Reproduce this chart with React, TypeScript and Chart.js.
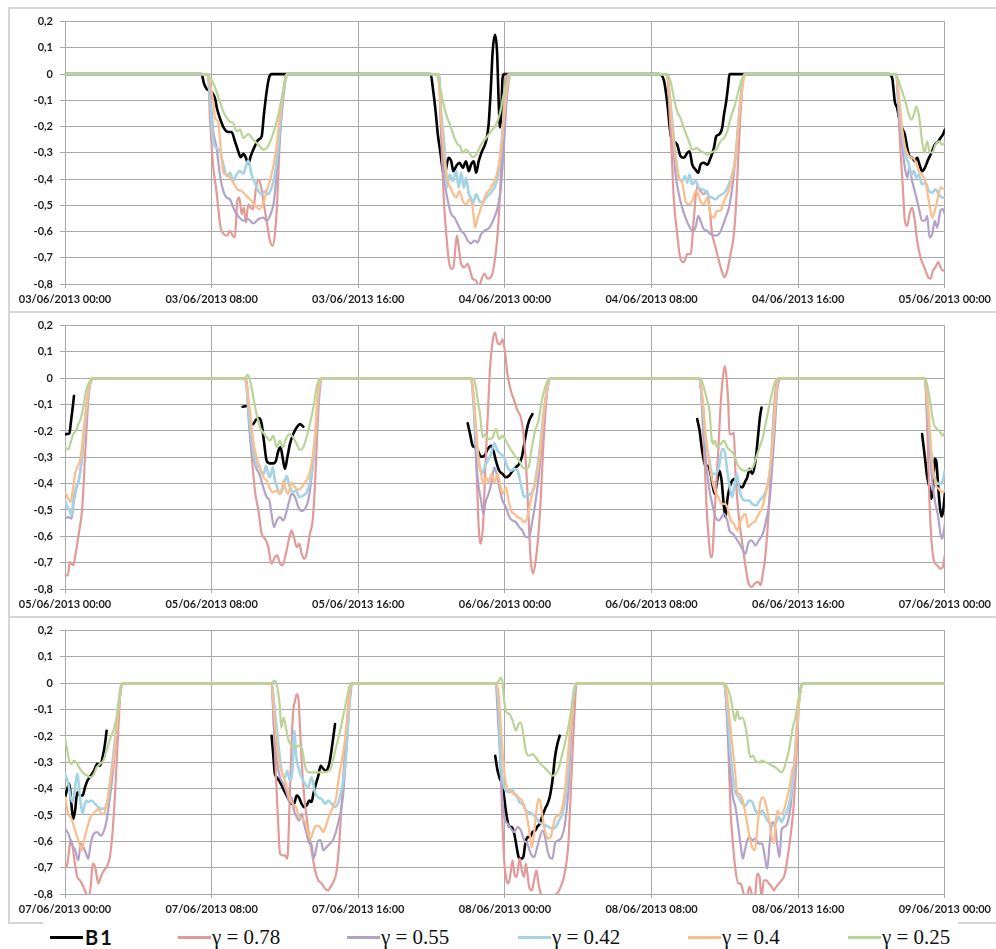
import React, { useEffect, useRef } from 'react';
import { Chart, registerables } from 'chart.js';

Chart.register(...registerables);

type Pt = [number, number | null];

// ---------- series meta ----------
const SERIES_NAMES = ['B1', 'γ = 0.78', 'γ = 0.55', 'γ = 0.42', 'γ = 0.4', 'γ = 0.25'];
const SERIES_COLORS = ['#000000', '#e29a99', '#b3a2c7', '#a3d3e4', '#fbbd8c', '#bad497'];
const SERIES_WIDTHS = [2.6, 2.2, 2.2, 2.6, 2.2, 2.2];
const SERIES_ORDER = [6, 5, 4, 3, 2, 1];

// ---------- axes ----------
const Y_MIN = -0.8;
const Y_MAX = 0.2;
const Y_STEP = 0.1;
const X_MAX = 48;
const X_STEP = 8;

const P1_TICKS = ['03/06/2013 00:00', '03/06/2013 08:00', '03/06/2013 16:00', '04/06/2013 00:00', '04/06/2013 08:00', '04/06/2013 16:00', '05/06/2013 00:00'];
const P2_TICKS = ['05/06/2013 00:00', '05/06/2013 08:00', '05/06/2013 16:00', '06/06/2013 00:00', '06/06/2013 08:00', '06/06/2013 16:00', '07/06/2013 00:00'];
const P3_TICKS = ['07/06/2013 00:00', '07/06/2013 08:00', '07/06/2013 16:00', '08/06/2013 00:00', '08/06/2013 08:00', '08/06/2013 16:00', '09/06/2013 00:00'];

// ---------- panel 1 (hours since 03/06 00:00) ----------
const P1_B1: Pt[] = [[0,0],[7.45,0],[7.58,-0.035],[7.73,-0.057],[7.91,-0.064],[8.05,-0.073],[8.18,-0.092],[8.31,-0.136],[8.45,-0.168],[8.67,-0.206],[8.91,-0.221],[9.09,-0.221],[9.27,-0.256],[9.45,-0.294],[9.58,-0.317],[9.73,-0.304],[9.87,-0.319],[10.0,-0.342],[10.13,-0.313],[10.31,-0.282],[10.55,-0.25],[10.73,-0.237],[10.85,-0.155],[11.0,-0.067],[11.15,-0.01],[11.27,0],
[19.95,0],[20.07,-0.054],[20.22,-0.143],[20.34,-0.231],[20.47,-0.294],[20.62,-0.37],[20.71,-0.389],[20.8,-0.357],[20.92,-0.319],[21.07,-0.332],[21.19,-0.37],[21.34,-0.351],[21.52,-0.338],[21.7,-0.357],[21.88,-0.332],[22.03,-0.37],[22.15,-0.345],[22.3,-0.332],[22.43,-0.376],[22.57,-0.332],[22.75,-0.294],[22.97,-0.256],[23.11,-0.193],[23.24,-0.042],[23.33,0.085],[23.46,0.15],[23.57,0.085],[23.66,-0.105],[23.73,-0.203],[23.8,-0.155],[23.87,-0.016],[23.96,0],
[32.4,0],[32.67,-0.023],[32.85,-0.105],[33.04,-0.231],[33.22,-0.256],[33.4,-0.269],[33.58,-0.313],[33.76,-0.319],[33.95,-0.3],[34.07,-0.294],[34.22,-0.345],[34.4,-0.364],[34.55,-0.376],[34.67,-0.345],[34.85,-0.338],[35.04,-0.345],[35.22,-0.319],[35.4,-0.282],[35.53,-0.237],[35.67,-0.231],[35.85,-0.206],[35.95,-0.155],[36.07,-0.105],[36.18,-0.042],[36.25,0],
[44.95,0],[45.13,-0.016],[45.27,-0.105],[45.4,-0.13],[45.49,-0.162],[45.67,-0.206],[45.82,-0.231],[45.95,-0.282],[46.07,-0.313],[46.22,-0.319],[46.36,-0.332],[46.49,-0.319],[46.62,-0.345],[46.76,-0.37],[46.91,-0.357],[47.09,-0.326],[47.27,-0.3],[47.45,-0.269],[47.64,-0.256],[47.76,-0.244],[47.89,-0.231],[48,-0.212]];

const P1_G078: Pt[] = [[0,0],[7.8,0],[7.91,-0.168],[8.09,-0.357],[8.24,-0.433],[8.36,-0.509],[8.49,-0.585],[8.67,-0.61],[8.85,-0.616],[9.0,-0.597],[9.15,-0.616],[9.27,-0.622],[9.4,-0.484],[9.51,-0.471],[9.64,-0.534],[9.76,-0.509],[9.87,-0.566],[10.0,-0.496],[10.13,-0.509],[10.27,-0.515],[10.42,-0.433],[10.55,-0.402],[10.69,-0.427],[10.82,-0.484],[11.0,-0.559],[11.18,-0.635],[11.33,-0.654],[11.45,-0.61],[11.58,-0.484],[11.69,-0.294],[11.82,-0.13],[11.95,-0.042],[12.05,-0.004],[12.13,0],
[20.4,0],[20.52,-0.231],[20.65,-0.458],[20.8,-0.61],[20.94,-0.711],[21.07,-0.742],[21.19,-0.736],[21.3,-0.66],[21.38,-0.616],[21.48,-0.66],[21.61,-0.723],[21.79,-0.736],[21.97,-0.723],[22.1,-0.749],[22.24,-0.78],[22.43,-0.787],[22.57,-0.812],[22.7,-0.787],[22.88,-0.761],[23.06,-0.78],[23.24,-0.774],[23.42,-0.723],[23.6,-0.61],[23.73,-0.458],[23.87,-0.231],[24.0,-0.054],[24.1,-0.01],[24.2,0],
[32.85,0],[32.95,-0.105],[33.09,-0.294],[33.22,-0.484],[33.4,-0.61],[33.58,-0.705],[33.76,-0.717],[33.95,-0.686],[34.13,-0.686],[34.31,-0.547],[34.49,-0.427],[34.67,-0.446],[34.85,-0.458],[35.04,-0.446],[35.16,-0.509],[35.31,-0.61],[35.49,-0.66],[35.67,-0.711],[35.85,-0.755],[35.98,-0.774],[36.13,-0.749],[36.31,-0.686],[36.49,-0.61],[36.62,-0.484],[36.73,-0.319],[36.85,-0.155],[36.98,-0.029],[37.09,0],
[45.35,0],[45.46,-0.13],[45.58,-0.294],[45.71,-0.433],[45.82,-0.559],[45.95,-0.578],[46.07,-0.534],[46.22,-0.509],[46.36,-0.559],[46.49,-0.635],[46.67,-0.698],[46.8,-0.723],[46.95,-0.749],[47.09,-0.774],[47.22,-0.78],[47.35,-0.749],[47.49,-0.736],[47.64,-0.717],[47.76,-0.736],[47.89,-0.749],[48,-0.749]];

const P1_G055: Pt[] = [[0,0],[7.8,0],[7.91,-0.067],[8.09,-0.218],[8.27,-0.282],[8.45,-0.383],[8.64,-0.446],[8.82,-0.471],[9.0,-0.477],[9.18,-0.509],[9.36,-0.534],[9.55,-0.549],[9.73,-0.559],[10.0,-0.553],[10.27,-0.569],[10.55,-0.553],[10.82,-0.547],[11.0,-0.559],[11.22,-0.534],[11.4,-0.484],[11.58,-0.357],[11.73,-0.231],[11.91,-0.092],[12.05,-0.016],[12.13,0],
[20.4,0],[20.52,-0.206],[20.71,-0.408],[20.89,-0.484],[21.07,-0.534],[21.25,-0.547],[21.43,-0.572],[21.61,-0.597],[21.79,-0.61],[21.97,-0.635],[22.15,-0.645],[22.33,-0.635],[22.52,-0.641],[22.7,-0.61],[22.88,-0.597],[23.15,-0.585],[23.42,-0.547],[23.6,-0.509],[23.78,-0.433],[23.96,-0.256],[24.09,-0.105],[24.24,-0.016],[24.33,0],
[32.85,0],[32.95,-0.067],[33.13,-0.231],[33.31,-0.383],[33.49,-0.458],[33.67,-0.509],[33.85,-0.547],[34.04,-0.578],[34.22,-0.597],[34.4,-0.585],[34.55,-0.54],[34.67,-0.559],[34.85,-0.591],[35.04,-0.597],[35.22,-0.61],[35.49,-0.616],[35.67,-0.61],[35.85,-0.585],[36.04,-0.547],[36.22,-0.509],[36.4,-0.433],[36.58,-0.319],[36.76,-0.168],[36.91,-0.054],[37.04,-0.004],[37.09,0],
[45.35,0],[45.49,-0.13],[45.67,-0.269],[45.82,-0.357],[45.95,-0.395],[46.07,-0.357],[46.22,-0.408],[46.4,-0.458],[46.58,-0.509],[46.76,-0.559],[46.91,-0.559],[47.04,-0.54],[47.16,-0.622],[47.31,-0.61],[47.45,-0.559],[47.58,-0.585],[47.76,-0.521],[47.89,-0.515],[48,-0.534]];

const P1_G042: Pt[] = [[0,0],[7.8,0],[7.91,-0.092],[8.09,-0.256],[8.27,-0.282],[8.45,-0.294],[8.64,-0.345],[8.82,-0.389],[9.0,-0.376],[9.18,-0.405],[9.36,-0.383],[9.55,-0.37],[9.73,-0.38],[9.87,-0.351],[10.0,-0.33],[10.18,-0.383],[10.36,-0.414],[10.55,-0.446],[10.73,-0.458],[10.91,-0.446],[11.09,-0.458],[11.27,-0.433],[11.45,-0.383],[11.64,-0.269],[11.82,-0.117],[12.0,-0.029],[12.13,0],
[20.4,0],[20.52,-0.143],[20.71,-0.282],[20.83,-0.433],[20.98,-0.383],[21.16,-0.408],[21.34,-0.37],[21.48,-0.433],[21.61,-0.376],[21.76,-0.433],[21.88,-0.395],[22.03,-0.458],[22.15,-0.471],[22.24,-0.496],[22.43,-0.458],[22.61,-0.484],[22.79,-0.49],[22.97,-0.471],[23.15,-0.458],[23.42,-0.433],[23.6,-0.395],[23.78,-0.294],[23.96,-0.143],[24.14,-0.029],[24.33,0],
[32.85,0],[32.95,-0.054],[33.13,-0.181],[33.31,-0.307],[33.49,-0.395],[33.67,-0.408],[33.82,-0.389],[33.95,-0.414],[34.07,-0.383],[34.22,-0.42],[34.4,-0.408],[34.58,-0.433],[34.76,-0.439],[34.95,-0.446],[35.13,-0.465],[35.31,-0.471],[35.49,-0.477],[35.67,-0.465],[35.85,-0.458],[36.04,-0.446],[36.22,-0.42],[36.4,-0.383],[36.58,-0.319],[36.76,-0.168],[36.95,-0.042],[37.09,0],
[45.35,0],[45.49,-0.105],[45.67,-0.231],[45.85,-0.307],[46.04,-0.345],[46.18,-0.383],[46.31,-0.37],[46.44,-0.395],[46.58,-0.383],[46.76,-0.42],[46.95,-0.414],[47.13,-0.446],[47.31,-0.452],[47.49,-0.439],[47.67,-0.458],[47.85,-0.471],[48,-0.471]];

const P1_G040: Pt[] = [[0,0],[7.73,0],[7.91,-0.042],[8.09,-0.105],[8.18,-0.168],[8.36,-0.181],[8.49,-0.282],[8.64,-0.376],[8.82,-0.383],[9.0,-0.395],[9.18,-0.414],[9.4,-0.439],[9.64,-0.446],[9.91,-0.465],[10.18,-0.484],[10.45,-0.506],[10.6,-0.515],[10.82,-0.49],[11.0,-0.446],[11.27,-0.383],[11.51,-0.294],[11.69,-0.181],[11.87,-0.08],[12.05,-0.01],[12.13,0],
[20.34,0],[20.52,-0.168],[20.71,-0.332],[20.89,-0.408],[21.07,-0.439],[21.19,-0.458],[21.34,-0.471],[21.52,-0.446],[21.7,-0.484],[21.88,-0.496],[22.06,-0.477],[22.24,-0.509],[22.37,-0.585],[22.52,-0.547],[22.7,-0.509],[22.97,-0.458],[23.24,-0.433],[23.42,-0.408],[23.6,-0.37],[23.78,-0.282],[23.96,-0.155],[24.14,-0.042],[24.33,0],
[32.76,0],[32.95,-0.054],[33.13,-0.206],[33.31,-0.319],[33.49,-0.395],[33.67,-0.414],[33.85,-0.484],[34.04,-0.496],[34.22,-0.484],[34.4,-0.446],[34.55,-0.458],[34.67,-0.484],[34.85,-0.496],[35.04,-0.471],[35.22,-0.534],[35.4,-0.547],[35.58,-0.521],[35.76,-0.521],[35.95,-0.484],[36.13,-0.458],[36.31,-0.42],[36.49,-0.357],[36.67,-0.256],[36.85,-0.105],[37.04,-0.016],[37.09,0],
[45.3,0],[45.53,-0.105],[45.67,-0.206],[45.85,-0.282],[46.04,-0.313],[46.22,-0.319],[46.4,-0.332],[46.58,-0.37],[46.76,-0.383],[46.95,-0.414],[47.13,-0.484],[47.31,-0.547],[47.45,-0.521],[47.58,-0.484],[47.76,-0.433],[48,-0.439]];

const P1_G025: Pt[] = [[0,0],[7.64,0],[8.09,-0.035],[8.45,-0.105],[8.64,-0.143],[9.0,-0.181],[9.18,-0.187],[9.36,-0.218],[9.55,-0.212],[9.73,-0.244],[10.0,-0.229],[10.27,-0.25],[10.55,-0.269],[10.82,-0.288],[11.0,-0.282],[11.27,-0.244],[11.55,-0.181],[11.82,-0.092],[12.0,-0.029],[12.13,0],
[20.25,0],[20.43,-0.042],[20.62,-0.105],[20.8,-0.155],[21.07,-0.206],[21.25,-0.244],[21.43,-0.269],[21.56,-0.275],[21.7,-0.3],[21.88,-0.288],[22.06,-0.3],[22.24,-0.317],[22.43,-0.307],[22.7,-0.269],[22.97,-0.244],[23.24,-0.218],[23.51,-0.193],[23.73,-0.149],[23.96,-0.067],[24.14,-0.023],[24.33,0],
[32.8,0],[33.04,-0.029],[33.22,-0.092],[33.4,-0.143],[33.58,-0.168],[33.76,-0.206],[34.04,-0.256],[34.22,-0.288],[34.49,-0.282],[34.67,-0.294],[34.85,-0.3],[35.04,-0.307],[35.22,-0.3],[35.4,-0.294],[35.58,-0.282],[35.76,-0.256],[35.95,-0.244],[36.13,-0.218],[36.31,-0.168],[36.55,-0.117],[36.73,-0.067],[36.91,-0.023],[37.09,0],
[45.31,0],[45.49,-0.029],[45.67,-0.067],[45.85,-0.105],[46.04,-0.155],[46.18,-0.174],[46.31,-0.155],[46.44,-0.124],[46.58,-0.155],[46.76,-0.256],[46.89,-0.3],[47.04,-0.256],[47.16,-0.294],[47.31,-0.3],[47.49,-0.269],[47.67,-0.256],[47.85,-0.269],[48,-0.263]];

// ---------- panel 2 (hours since 05/06 00:00) ----------
const P2_B1: Pt[] = [[0,-0.212],[0.24,-0.209],[0.31,-0.174],[0.42,-0.111],[0.49,-0.067],[0.6,null],
[9.69,-0.108],[9.95,-0.105],[10.1,null],
[10.27,-0.174],[10.45,-0.155],[10.6,-0.151],[10.73,-0.174],[10.85,-0.237],[11.0,-0.313],[11.18,-0.323],[11.36,-0.323],[11.51,-0.313],[11.64,-0.275],[11.76,-0.262],[11.87,-0.3],[12.0,-0.344],[12.13,-0.3],[12.27,-0.25],[12.45,-0.212],[12.64,-0.187],[12.82,-0.174],[13.0,-0.184],[13.2,null],
[21.97,-0.171],[22.1,-0.212],[22.24,-0.256],[22.39,-0.262],[22.52,-0.275],[22.7,-0.298],[22.88,-0.294],[23.06,-0.269],[23.24,-0.256],[23.37,-0.275],[23.51,-0.313],[23.69,-0.351],[23.87,-0.363],[24.05,-0.376],[24.24,-0.369],[24.42,-0.351],[24.6,-0.338],[24.78,-0.325],[24.92,-0.3],[25.05,-0.25],[25.18,-0.199],[25.32,-0.161],[25.5,-0.136],[25.7,null],
[34.49,-0.155],[34.62,-0.199],[34.76,-0.275],[34.95,-0.332],[35.09,-0.332],[35.22,-0.363],[35.35,-0.414],[35.45,-0.439],[35.58,-0.388],[35.71,-0.351],[35.82,-0.388],[35.95,-0.489],[36.04,-0.527],[36.13,-0.464],[36.22,-0.426],[36.4,-0.388],[36.58,-0.382],[36.76,-0.407],[36.95,-0.414],[37.09,-0.395],[37.22,-0.376],[37.35,-0.344],[37.49,-0.363],[37.67,-0.313],[37.82,-0.212],[37.91,-0.149],[38.0,-0.111],[38.2,null],
[46.76,-0.212],[46.91,-0.3],[47.04,-0.376],[47.16,-0.414],[47.27,-0.458],[47.36,-0.414],[47.45,-0.306],[47.53,-0.313],[47.64,-0.414],[47.73,-0.489],[47.82,-0.525],[47.91,-0.502],[48,-0.439]];

const P2_G078: Pt[] = [[0,-0.748],[0.15,-0.748],[0.27,-0.697],[0.36,-0.704],[0.45,-0.71],[0.55,-0.678],[0.67,-0.628],[0.78,-0.578],[0.91,-0.515],[1.0,-0.426],[1.09,-0.3],[1.18,-0.187],[1.27,-0.086],[1.36,-0.023],[1.51,0],
[9.87,0],[9.95,-0.035],[10.09,-0.212],[10.24,-0.338],[10.36,-0.426],[10.55,-0.502],[10.73,-0.59],[10.91,-0.609],[11.09,-0.641],[11.27,-0.704],[11.45,-0.678],[11.58,-0.672],[11.73,-0.704],[11.87,-0.71],[12.05,-0.666],[12.24,-0.603],[12.36,-0.578],[12.49,-0.603],[12.64,-0.641],[12.78,-0.628],[12.91,-0.666],[13.04,-0.685],[13.18,-0.666],[13.36,-0.59],[13.51,-0.54],[13.64,-0.401],[13.76,-0.212],[13.87,-0.073],[14.0,0],
[22.15,0],[22.28,-0.061],[22.39,-0.212],[22.48,-0.401],[22.57,-0.565],[22.66,-0.628],[22.75,-0.603],[22.84,-0.515],[22.93,-0.338],[23.06,-0.149],[23.19,0.04],[23.33,0.141],[23.46,0.173],[23.6,0.135],[23.73,0.129],[23.87,0.148],[24.02,0.091],[24.14,0.015],[24.33,-0.048],[24.51,-0.086],[24.69,-0.124],[24.87,-0.149],[25.05,-0.237],[25.18,-0.363],[25.29,-0.527],[25.41,-0.691],[25.54,-0.741],[25.68,-0.691],[25.83,-0.59],[25.95,-0.464],[26.08,-0.275],[26.23,-0.111],[26.35,-0.023],[26.47,0],
[34.55,0],[34.69,-0.035],[34.8,-0.187],[34.91,-0.338],[35.0,-0.489],[35.13,-0.615],[35.22,-0.678],[35.31,-0.678],[35.4,-0.565],[35.53,-0.401],[35.64,-0.275],[35.76,-0.111],[35.89,0.003],[36.0,0.047],[36.09,0.003],[36.18,-0.086],[36.25,-0.212],[36.4,-0.212],[36.49,-0.206],[36.58,-0.363],[36.73,-0.502],[36.85,-0.578],[36.98,-0.641],[37.13,-0.716],[37.27,-0.773],[37.45,-0.792],[37.64,-0.779],[37.82,-0.773],[37.95,-0.786],[38.07,-0.741],[38.18,-0.691],[38.31,-0.59],[38.44,-0.439],[38.55,-0.275],[38.67,-0.124],[38.8,-0.023],[38.95,0],
[46.9,0],[47.05,-0.212],[47.16,-0.464],[47.27,-0.615],[47.4,-0.691],[47.58,-0.71],[47.76,-0.723],[47.89,-0.716],[48,-0.672]];

const P2_G055: Pt[] = [[0,-0.533],[0.18,-0.527],[0.36,-0.533],[0.49,-0.464],[0.64,-0.414],[0.78,-0.376],[0.91,-0.313],[1.04,-0.212],[1.18,-0.111],[1.33,-0.035],[1.47,-0.004],[1.5,0],
[9.85,0],[10.05,-0.187],[10.24,-0.288],[10.42,-0.338],[10.6,-0.363],[10.82,-0.414],[11.0,-0.451],[11.15,-0.464],[11.27,-0.515],[11.4,-0.565],[11.55,-0.54],[11.73,-0.527],[11.91,-0.54],[12.05,-0.515],[12.24,-0.464],[12.36,-0.439],[12.55,-0.451],[12.73,-0.489],[12.91,-0.504],[13.09,-0.496],[13.27,-0.464],[13.45,-0.376],[13.64,-0.237],[13.76,-0.124],[13.91,-0.01],[14.0,0],
[22.15,0],[22.28,-0.086],[22.43,-0.313],[22.57,-0.414],[22.7,-0.464],[22.82,-0.515],[22.97,-0.464],[23.11,-0.439],[23.29,-0.388],[23.42,-0.338],[23.55,-0.363],[23.69,-0.414],[23.87,-0.464],[24.05,-0.489],[24.24,-0.527],[24.42,-0.54],[24.6,-0.546],[24.78,-0.565],[24.96,-0.578],[25.14,-0.603],[25.32,-0.603],[25.5,-0.54],[25.68,-0.464],[25.86,-0.363],[26.05,-0.212],[26.23,-0.086],[26.41,-0.01],[26.5,0],
[34.6,0],[34.8,-0.136],[34.95,-0.3],[35.13,-0.414],[35.31,-0.477],[35.49,-0.527],[35.67,-0.54],[35.82,-0.527],[35.95,-0.515],[36.13,-0.54],[36.25,-0.578],[36.44,-0.59],[36.62,-0.609],[36.8,-0.628],[36.98,-0.653],[37.13,-0.666],[37.27,-0.628],[37.45,-0.615],[37.67,-0.634],[37.85,-0.615],[38.07,-0.59],[38.25,-0.54],[38.44,-0.464],[38.58,-0.338],[38.73,-0.187],[38.85,-0.048],[38.95,-0.01],[39.0,0],
[46.9,0],[47.09,-0.161],[47.22,-0.313],[47.35,-0.414],[47.49,-0.477],[47.64,-0.527],[47.76,-0.59],[47.85,-0.609],[47.95,-0.578],[48,-0.552]];

const P2_G042: Pt[] = [[0,-0.464],[0.09,-0.483],[0.24,-0.502],[0.36,-0.521],[0.45,-0.464],[0.6,-0.414],[0.73,-0.395],[0.82,-0.363],[0.96,-0.275],[1.09,-0.174],[1.22,-0.086],[1.36,-0.023],[1.47,0],
[9.82,0],[10.05,-0.149],[10.24,-0.262],[10.42,-0.325],[10.6,-0.338],[10.73,-0.357],[10.85,-0.363],[10.96,-0.332],[11.09,-0.363],[11.18,-0.376],[11.33,-0.338],[11.45,-0.388],[11.58,-0.414],[11.73,-0.439],[11.91,-0.414],[12.09,-0.37],[12.24,-0.407],[12.42,-0.433],[12.6,-0.426],[12.78,-0.451],[13.0,-0.445],[13.18,-0.433],[13.36,-0.395],[13.55,-0.313],[13.69,-0.187],[13.82,-0.061],[13.95,-0.004],[14.0,0],
[22.15,0],[22.28,-0.086],[22.43,-0.237],[22.57,-0.313],[22.75,-0.363],[22.88,-0.338],[23.06,-0.313],[23.24,-0.288],[23.42,-0.247],[23.6,-0.275],[23.78,-0.288],[23.96,-0.3],[24.14,-0.338],[24.33,-0.351],[24.51,-0.344],[24.69,-0.351],[24.87,-0.401],[25.05,-0.451],[25.23,-0.445],[25.41,-0.439],[25.59,-0.414],[25.77,-0.338],[25.95,-0.237],[26.14,-0.111],[26.32,-0.035],[26.45,0],
[34.6,0],[34.8,-0.111],[34.95,-0.237],[35.13,-0.3],[35.31,-0.363],[35.49,-0.363],[35.67,-0.338],[35.85,-0.269],[35.98,-0.275],[36.13,-0.351],[36.25,-0.407],[36.4,-0.451],[36.55,-0.395],[36.67,-0.363],[36.76,-0.414],[36.91,-0.451],[37.09,-0.464],[37.31,-0.464],[37.49,-0.477],[37.71,-0.483],[37.89,-0.464],[38.07,-0.451],[38.25,-0.426],[38.44,-0.363],[38.58,-0.25],[38.73,-0.111],[38.85,-0.023],[38.95,0],
[46.9,0],[47.09,-0.136],[47.22,-0.262],[47.35,-0.351],[47.49,-0.388],[47.67,-0.401],[47.85,-0.395],[48,-0.351]];

const P2_G040: Pt[] = [[0,-0.433],[0.09,-0.445],[0.18,-0.458],[0.31,-0.47],[0.42,-0.426],[0.55,-0.363],[0.67,-0.338],[0.82,-0.313],[0.96,-0.237],[1.09,-0.149],[1.22,-0.073],[1.36,-0.023],[1.47,0],
[9.85,0],[10.0,-0.073],[10.13,-0.149],[10.27,-0.237],[10.45,-0.3],[10.64,-0.338],[10.82,-0.376],[11.0,-0.388],[11.18,-0.42],[11.36,-0.433],[11.55,-0.426],[11.69,-0.439],[11.82,-0.42],[11.91,-0.388],[12.05,-0.426],[12.18,-0.439],[12.36,-0.395],[12.55,-0.414],[12.73,-0.424],[12.91,-0.414],[13.09,-0.395],[13.27,-0.376],[13.45,-0.325],[13.64,-0.212],[13.76,-0.086],[13.91,-0.01],[14.0,0],
[22.15,0],[22.28,-0.061],[22.43,-0.187],[22.57,-0.313],[22.7,-0.363],[22.82,-0.401],[22.97,-0.376],[23.11,-0.395],[23.26,-0.363],[23.42,-0.395],[23.6,-0.363],[23.73,-0.401],[23.87,-0.439],[24.05,-0.414],[24.2,-0.464],[24.33,-0.502],[24.51,-0.515],[24.69,-0.527],[24.87,-0.533],[25.05,-0.546],[25.23,-0.527],[25.41,-0.464],[25.59,-0.414],[25.77,-0.363],[25.95,-0.262],[26.14,-0.124],[26.32,-0.029],[26.45,0],
[34.6,0],[34.8,-0.086],[34.95,-0.212],[35.13,-0.313],[35.27,-0.376],[35.45,-0.426],[35.64,-0.451],[35.82,-0.477],[36.0,-0.477],[36.13,-0.489],[36.31,-0.54],[36.49,-0.552],[36.67,-0.578],[36.8,-0.552],[36.95,-0.527],[37.13,-0.515],[37.27,-0.565],[37.45,-0.552],[37.67,-0.54],[37.85,-0.515],[38.04,-0.489],[38.22,-0.439],[38.4,-0.376],[38.58,-0.262],[38.73,-0.124],[38.85,-0.023],[38.95,0],
[46.9,0],[47.09,-0.111],[47.22,-0.237],[47.35,-0.338],[47.49,-0.401],[47.67,-0.42],[47.85,-0.433],[48,-0.426]];

const P2_G025: Pt[] = [[0,-0.262],[0.18,-0.269],[0.31,-0.243],[0.45,-0.212],[0.6,-0.199],[0.73,-0.174],[0.85,-0.155],[1.0,-0.111],[1.15,-0.048],[1.27,-0.023],[1.36,-0.01],[1.51,0],
[9.82,0],[9.95,0.013],[10.05,0.003],[10.18,-0.035],[10.31,-0.086],[10.45,-0.136],[10.64,-0.187],[10.82,-0.206],[11.0,-0.224],[11.18,-0.237],[11.36,-0.218],[11.55,-0.262],[11.73,-0.237],[11.87,-0.262],[12.05,-0.231],[12.24,-0.212],[12.45,-0.224],[12.64,-0.25],[12.82,-0.272],[13.0,-0.262],[13.18,-0.224],[13.36,-0.174],[13.55,-0.111],[13.73,-0.035],[13.87,-0.004],[14.0,0],
[22.24,0],[22.39,-0.023],[22.52,-0.086],[22.64,-0.136],[22.79,-0.224],[22.93,-0.212],[23.11,-0.231],[23.33,-0.224],[23.51,-0.193],[23.69,-0.231],[23.87,-0.218],[24.05,-0.237],[24.24,-0.262],[24.42,-0.281],[24.6,-0.3],[24.78,-0.313],[24.96,-0.338],[25.14,-0.344],[25.29,-0.338],[25.47,-0.262],[25.65,-0.199],[25.83,-0.161],[26.01,-0.086],[26.19,-0.035],[26.37,-0.004],[26.5,0],
[34.67,0],[34.85,-0.035],[35.04,-0.086],[35.16,-0.124],[35.27,-0.224],[35.35,-0.25],[35.45,-0.237],[35.58,-0.262],[35.76,-0.25],[35.95,-0.237],[36.13,-0.262],[36.31,-0.275],[36.49,-0.288],[36.67,-0.325],[36.85,-0.344],[37.09,-0.351],[37.31,-0.348],[37.53,-0.338],[37.71,-0.3],[37.89,-0.262],[38.07,-0.224],[38.22,-0.174],[38.4,-0.111],[38.58,-0.054],[38.76,-0.01],[38.9,0],
[46.85,0],[46.98,-0.01],[47.13,-0.061],[47.27,-0.124],[47.4,-0.174],[47.58,-0.193],[47.76,-0.206],[47.89,-0.218],[48,-0.206]];

// ---------- panel 3 (hours since 07/06 00:00) ----------
const P3_B1: Pt[] = [[0,-0.433],[0.15,-0.395],[0.24,-0.382],[0.33,-0.445],[0.45,-0.515],[0.55,-0.483],[0.67,-0.414],[0.82,-0.426],[0.96,-0.426],[1.09,-0.395],[1.22,-0.37],[1.4,-0.351],[1.58,-0.332],[1.76,-0.306],[1.91,-0.313],[2.05,-0.281],[2.18,-0.231],[2.27,-0.18],[2.4,null],
[11.27,-0.199],[11.36,-0.269],[11.45,-0.344],[11.55,-0.357],[11.69,-0.37],[11.82,-0.388],[11.95,-0.407],[12.09,-0.426],[12.24,-0.445],[12.36,-0.458],[12.49,-0.458],[12.64,-0.426],[12.76,-0.433],[12.91,-0.458],[13.04,-0.47],[13.18,-0.464],[13.33,-0.445],[13.45,-0.451],[13.55,-0.42],[13.69,-0.382],[13.82,-0.351],[13.95,-0.313],[14.09,-0.325],[14.24,-0.332],[14.36,-0.319],[14.45,-0.294],[14.6,-0.224],[14.73,-0.155],[14.9,null],
[23.47,-0.275],[23.6,-0.332],[23.73,-0.363],[23.84,-0.382],[23.96,-0.433],[24.05,-0.483],[24.14,-0.521],[24.24,-0.544],[24.38,-0.546],[24.51,-0.571],[24.64,-0.622],[24.75,-0.66],[24.87,-0.666],[25.0,-0.66],[25.11,-0.609],[25.23,-0.584],[25.36,-0.584],[25.5,-0.565],[25.65,-0.559],[25.77,-0.544],[25.9,-0.533],[26.05,-0.502],[26.19,-0.477],[26.32,-0.458],[26.44,-0.433],[26.59,-0.37],[26.73,-0.281],[26.86,-0.231],[26.99,-0.199]];

const P3_G078: Pt[] = [[0,-0.685],[0.09,-0.697],[0.18,-0.66],[0.27,-0.609],[0.36,-0.596],[0.49,-0.66],[0.67,-0.735],[0.82,-0.748],[1.0,-0.773],[1.15,-0.798],[1.27,-0.811],[1.4,-0.773],[1.51,-0.685],[1.64,-0.697],[1.82,-0.76],[1.95,-0.735],[2.13,-0.71],[2.27,-0.697],[2.45,-0.66],[2.6,-0.559],[2.73,-0.42],[2.85,-0.256],[2.96,-0.105],[3.05,-0.016],[3.15,0],
[11.27,0],[11.36,-0.105],[11.51,-0.357],[11.64,-0.546],[11.73,-0.647],[11.87,-0.653],[12.0,-0.653],[12.13,-0.666],[12.24,-0.483],[12.36,-0.231],[12.45,-0.105],[12.55,-0.067],[12.64,-0.042],[12.73,-0.054],[12.82,-0.168],[12.91,-0.294],[13.04,-0.42],[13.18,-0.508],[13.33,-0.584],[13.45,-0.634],[13.64,-0.71],[13.82,-0.748],[14.0,-0.76],[14.18,-0.779],[14.36,-0.786],[14.49,-0.773],[14.64,-0.754],[14.8,-0.72],[14.95,-0.62],[15.07,-0.483],[15.2,-0.332],[15.35,-0.18],[15.49,-0.054],[15.62,0],
[23.5,0],[23.6,-0.042],[23.73,-0.231],[23.84,-0.483],[23.96,-0.672],[24.09,-0.748],[24.2,-0.76],[24.33,-0.71],[24.42,-0.672],[24.51,-0.723],[24.64,-0.735],[24.75,-0.685],[24.81,-0.666],[24.92,-0.71],[25.05,-0.735],[25.14,-0.685],[25.23,-0.723],[25.32,-0.773],[25.47,-0.786],[25.59,-0.748],[25.72,-0.71],[25.83,-0.76],[25.95,-0.798],[26.14,-0.811],[26.32,-0.805],[26.5,-0.811],[26.68,-0.805],[26.86,-0.798],[27.04,-0.773],[27.22,-0.735],[27.35,-0.685],[27.46,-0.609],[27.58,-0.433],[27.71,-0.231],[27.82,-0.079],[27.89,-0.01],[27.95,0],
[35.95,0],[36.04,-0.042],[36.18,-0.231],[36.31,-0.483],[36.44,-0.609],[36.58,-0.71],[36.73,-0.76],[36.85,-0.76],[36.98,-0.786],[37.09,-0.811],[37.22,-0.805],[37.35,-0.773],[37.49,-0.805],[37.64,-0.811],[37.76,-0.723],[37.89,-0.735],[38.0,-0.811],[38.13,-0.748],[38.25,-0.748],[38.4,-0.76],[38.55,-0.773],[38.67,-0.786],[38.8,-0.773],[38.95,-0.76],[39.09,-0.748],[39.22,-0.735],[39.31,-0.71],[39.4,-0.672],[39.53,-0.609],[39.64,-0.546],[39.76,-0.458],[39.85,-0.357],[39.95,-0.206],[40.04,-0.079],[40.18,-0.006],[40.25,0],[48,0]];

const P3_G055: Pt[] = [[0,-0.552],[0.18,-0.571],[0.36,-0.609],[0.55,-0.634],[0.73,-0.672],[0.85,-0.609],[1.0,-0.622],[1.15,-0.647],[1.27,-0.666],[1.4,-0.609],[1.58,-0.571],[1.76,-0.565],[1.95,-0.578],[2.13,-0.559],[2.27,-0.521],[2.45,-0.433],[2.64,-0.319],[2.78,-0.206],[2.91,-0.105],[3.04,-0.029],[3.15,0],
[11.27,0],[11.4,-0.168],[11.55,-0.294],[11.73,-0.357],[11.91,-0.382],[12.09,-0.414],[12.24,-0.451],[12.36,-0.433],[12.49,-0.483],[12.64,-0.508],[12.78,-0.521],[12.91,-0.496],[13.04,-0.533],[13.18,-0.571],[13.33,-0.609],[13.45,-0.609],[13.55,-0.666],[13.69,-0.634],[13.82,-0.596],[13.95,-0.596],[14.09,-0.634],[14.27,-0.622],[14.45,-0.609],[14.62,-0.596],[14.8,-0.559],[14.98,-0.508],[15.16,-0.433],[15.35,-0.256],[15.49,-0.105],[15.62,-0.016],[15.65,0],
[23.5,0],[23.6,-0.105],[23.73,-0.269],[23.84,-0.42],[23.96,-0.508],[24.14,-0.533],[24.33,-0.552],[24.51,-0.565],[24.69,-0.546],[24.87,-0.559],[25.05,-0.596],[25.23,-0.609],[25.41,-0.647],[25.59,-0.66],[25.72,-0.634],[25.86,-0.596],[26.05,-0.559],[26.19,-0.584],[26.32,-0.634],[26.44,-0.66],[26.59,-0.666],[26.73,-0.609],[26.91,-0.596],[27.1,-0.584],[27.28,-0.533],[27.46,-0.407],[27.58,-0.231],[27.71,-0.079],[27.86,-0.004],[27.95,0],
[35.95,0],[36.04,-0.042],[36.18,-0.193],[36.31,-0.344],[36.44,-0.433],[36.58,-0.47],[36.73,-0.546],[36.85,-0.609],[36.98,-0.666],[37.09,-0.634],[37.22,-0.596],[37.35,-0.584],[37.49,-0.596],[37.67,-0.59],[37.85,-0.609],[38.04,-0.609],[38.18,-0.66],[38.31,-0.704],[38.44,-0.609],[38.58,-0.527],[38.73,-0.54],[38.85,-0.609],[38.98,-0.66],[39.09,-0.559],[39.22,-0.546],[39.4,-0.533],[39.58,-0.47],[39.76,-0.332],[39.91,-0.18],[40.04,-0.067],[40.18,-0.01],[40.25,0],[48,0]];

const P3_G042: Pt[] = [[0,-0.344],[0.18,-0.382],[0.31,-0.433],[0.42,-0.451],[0.55,-0.395],[0.67,-0.344],[0.82,-0.433],[0.96,-0.496],[1.04,-0.47],[1.15,-0.445],[1.27,-0.451],[1.45,-0.445],[1.64,-0.458],[1.82,-0.47],[2.0,-0.477],[2.24,-0.47],[2.36,-0.433],[2.49,-0.357],[2.64,-0.269],[2.78,-0.18],[2.91,-0.092],[3.04,-0.016],[3.15,0],
[11.27,0],[11.45,-0.105],[11.64,-0.231],[11.82,-0.332],[12.0,-0.357],[12.13,-0.332],[12.27,-0.37],[12.42,-0.319],[12.51,-0.18],[12.6,-0.269],[12.73,-0.319],[12.91,-0.357],[13.09,-0.382],[13.27,-0.395],[13.45,-0.357],[13.64,-0.414],[13.82,-0.433],[14.0,-0.439],[14.18,-0.458],[14.36,-0.445],[14.55,-0.458],[14.73,-0.47],[14.9,-0.455],[15.0,-0.43],[15.16,-0.38],[15.35,-0.256],[15.49,-0.105],[15.62,0],
[23.51,0],[23.66,-0.105],[23.78,-0.294],[23.91,-0.382],[24.05,-0.407],[24.24,-0.414],[24.38,-0.401],[24.51,-0.42],[24.64,-0.426],[24.78,-0.451],[24.96,-0.458],[25.14,-0.483],[25.32,-0.489],[25.5,-0.496],[25.68,-0.508],[25.86,-0.527],[26.05,-0.533],[26.23,-0.54],[26.41,-0.546],[26.59,-0.552],[26.77,-0.546],[26.95,-0.521],[27.13,-0.496],[27.31,-0.433],[27.46,-0.319],[27.58,-0.168],[27.71,-0.054],[27.86,-0.004],[27.95,0],
[35.95,0],[36.04,-0.029],[36.18,-0.142],[36.31,-0.269],[36.44,-0.357],[36.58,-0.414],[36.76,-0.433],[36.95,-0.458],[37.13,-0.464],[37.31,-0.445],[37.49,-0.451],[37.67,-0.483],[37.85,-0.496],[38.04,-0.483],[38.22,-0.508],[38.4,-0.527],[38.58,-0.54],[38.76,-0.533],[38.95,-0.508],[39.09,-0.527],[39.22,-0.508],[39.4,-0.483],[39.58,-0.433],[39.76,-0.332],[39.91,-0.193],[40.04,-0.067],[40.18,-0.01],[40.25,0],[48,0]];

const P3_G040: Pt[] = [[0,-0.433],[0.18,-0.496],[0.36,-0.515],[0.55,-0.559],[0.73,-0.596],[0.91,-0.634],[1.04,-0.596],[1.22,-0.546],[1.4,-0.508],[1.64,-0.489],[1.82,-0.477],[2.0,-0.496],[2.13,-0.496],[2.27,-0.458],[2.45,-0.382],[2.64,-0.294],[2.78,-0.206],[2.91,-0.105],[3.04,-0.029],[3.15,0],
[11.27,0],[11.4,-0.105],[11.55,-0.23],[11.69,-0.306],[11.87,-0.344],[12.05,-0.382],[12.24,-0.432],[12.42,-0.458],[12.6,-0.47],[12.78,-0.508],[12.96,-0.515],[13.15,-0.534],[13.27,-0.571],[13.4,-0.59],[13.55,-0.56],[13.73,-0.54],[13.91,-0.546],[14.09,-0.565],[14.27,-0.534],[14.45,-0.496],[14.62,-0.47],[14.8,-0.433],[14.89,-0.382],[15.07,-0.306],[15.25,-0.23],[15.44,-0.105],[15.56,-0.016],[15.62,0],
[23.51,0],[23.66,-0.042],[23.78,-0.168],[23.91,-0.294],[24.05,-0.382],[24.24,-0.407],[24.42,-0.414],[24.56,-0.426],[24.74,-0.433],[24.92,-0.445],[25.14,-0.483],[25.32,-0.559],[25.47,-0.622],[25.59,-0.571],[25.72,-0.483],[25.83,-0.439],[25.95,-0.458],[26.08,-0.521],[26.23,-0.571],[26.37,-0.59],[26.5,-0.584],[26.62,-0.546],[26.77,-0.508],[26.95,-0.502],[27.13,-0.47],[27.31,-0.382],[27.49,-0.231],[27.67,-0.105],[27.82,-0.016],[27.95,0],
[35.95,0],[36.13,-0.054],[36.25,-0.13],[36.4,-0.231],[36.55,-0.332],[36.67,-0.414],[36.8,-0.42],[36.95,-0.439],[37.09,-0.483],[37.22,-0.533],[37.35,-0.584],[37.49,-0.622],[37.64,-0.634],[37.76,-0.559],[37.89,-0.47],[38.04,-0.433],[38.18,-0.445],[38.31,-0.483],[38.44,-0.533],[38.55,-0.584],[38.67,-0.609],[38.76,-0.533],[38.87,-0.483],[38.98,-0.496],[39.13,-0.496],[39.27,-0.47],[39.4,-0.433],[39.53,-0.395],[39.67,-0.332],[39.82,-0.294],[39.91,-0.206],[40.04,-0.079],[40.18,-0.004],[40.25,0],[48,0]];

const P3_G025: Pt[] = [[0,-0.206],[0.09,-0.243],[0.24,-0.294],[0.36,-0.306],[0.49,-0.294],[0.67,-0.306],[0.82,-0.325],[1.04,-0.344],[1.22,-0.351],[1.4,-0.357],[1.58,-0.344],[1.73,-0.319],[1.91,-0.306],[2.09,-0.294],[2.27,-0.256],[2.45,-0.212],[2.64,-0.18],[2.78,-0.142],[2.91,-0.079],[3.04,-0.016],[3.15,0],
[11.27,0],[11.42,0.01],[11.53,0],[11.62,-0.03],[11.71,-0.08],[11.8,-0.168],[11.93,-0.13],[12.05,-0.168],[12.2,-0.218],[12.38,-0.237],[12.56,-0.244],[12.75,-0.237],[12.93,-0.25],[13.11,-0.318],[13.29,-0.338],[13.56,-0.338],[13.84,-0.338],[14.1,-0.338],[14.45,-0.33],[14.62,-0.293],[14.8,-0.24],[14.98,-0.19],[15.16,-0.13],[15.35,-0.067],[15.5,-0.016],[15.62,0],
[23.51,0],[23.66,0.009],[23.78,0.021],[23.87,0.003],[23.96,-0.067],[24.05,-0.105],[24.24,-0.117],[24.42,-0.142],[24.6,-0.18],[24.74,-0.155],[24.87,-0.149],[25.0,-0.193],[25.14,-0.256],[25.32,-0.275],[25.5,-0.269],[25.68,-0.281],[25.86,-0.3],[26.05,-0.313],[26.23,-0.325],[26.41,-0.338],[26.59,-0.351],[26.77,-0.344],[26.95,-0.319],[27.13,-0.269],[27.31,-0.218],[27.49,-0.155],[27.67,-0.079],[27.86,-0.01],[27.95,0],
[35.95,0],[36.13,-0.016],[36.31,-0.054],[36.44,-0.105],[36.55,-0.142],[36.67,-0.105],[36.8,-0.136],[36.95,-0.13],[37.09,-0.155],[37.22,-0.206],[37.31,-0.256],[37.4,-0.281],[37.53,-0.275],[37.67,-0.294],[37.85,-0.3],[38.04,-0.294],[38.22,-0.3],[38.4,-0.304],[38.58,-0.313],[38.76,-0.319],[38.95,-0.332],[39.09,-0.338],[39.22,-0.325],[39.35,-0.294],[39.49,-0.256],[39.64,-0.193],[39.73,-0.161],[39.85,-0.13],[40.0,-0.067],[40.13,-0.016],[40.25,0],[48,0]];

// ---------- layout (page pixels) ----------
const PAGE_W = 996;
const PAGE_H = 949;
const PLOT_LEFT = 65;
const PLOT_RIGHT = 946;
const BORDER = '#d6d6d6';
const GRID = '#a8a8a8';
const LABEL_FONT = 'Lato, "Open Sans", sans-serif';

const PANELS = [
  { top: 8, height: 304, padTop: 12, axisH: 28, ticks: P1_TICKS, series: [P1_B1, P1_G078, P1_G055, P1_G042, P1_G040, P1_G025] },
  { top: 312, height: 305, padTop: 13, axisH: 28, ticks: P2_TICKS, series: [P2_B1, P2_G078, P2_G055, P2_G042, P2_G040, P2_G025] },
  { top: 617, height: 306, padTop: 13, axisH: 29, ticks: P3_TICKS, series: [P3_B1, P3_G078, P3_G055, P3_G042, P3_G040, P3_G025] },
];

const LEGEND_X = [50, 178, 347, 518, 688, 848];

function fmtY(v: number): string {
  if (Math.abs(v) < 1e-9) return '0';
  return v.toFixed(1).replace('.', ',');
}

function PanelChart(props: { top: number; height: number; padTop: number; axisH: number; ticks: string[]; series: Pt[][] }) {
  const ref = useRef<HTMLCanvasElement | null>(null);
  const { top, height, padTop, axisH, ticks, series } = props;
  useEffect(() => {
    const canvas = ref.current;
    if (!canvas) return;
    const chart = new Chart(canvas, {
      type: 'line',
      data: {
        datasets: series.map((s, i) => ({
          label: SERIES_NAMES[i],
          data: s.map(([x, y]) => ({ x, y })),
          borderColor: SERIES_COLORS[i],
          backgroundColor: SERIES_COLORS[i],
          borderWidth: SERIES_WIDTHS[i],
          pointRadius: 0,
          pointHoverRadius: 0,
          cubicInterpolationMode: 'monotone' as const,
          tension: 0.4,
          fill: false,
          spanGaps: false,
          order: SERIES_ORDER[i],
          borderJoinStyle: 'round' as const,
          borderCapStyle: 'round' as const,
        })),
      },
      options: {
        responsive: false,
        maintainAspectRatio: false,
        animation: false,
        events: [],
        layout: { padding: { top: padTop, right: PAGE_W - PLOT_RIGHT, left: 0, bottom: 0 } },
        plugins: { legend: { display: false }, tooltip: { enabled: false }, title: { display: false } },
        scales: {
          x: {
            type: 'linear',
            min: 0,
            max: X_MAX,
            afterFit: (scale: any) => { scale.height = axisH; },
            ticks: {
              stepSize: X_STEP,
              autoSkip: false,
              maxRotation: 0,
              minRotation: 0,
              padding: 5,
              color: '#1e1e1e',
              font: { family: LABEL_FONT, size: 11, weight: 'bold' },
              callback: (v: any) => ticks[Math.round(Number(v) / X_STEP)] ?? '',
            },
            grid: { color: GRID, lineWidth: 1, tickLength: 4, drawTicks: true },
            border: { color: GRID, width: 1 },
          },
          y: {
            type: 'linear',
            min: Y_MIN,
            max: Y_MAX,
            afterFit: (scale: any) => { scale.width = PLOT_LEFT; },
            ticks: {
              stepSize: Y_STEP,
              padding: 7,
              color: '#1e1e1e',
              font: { family: LABEL_FONT, size: 11, weight: 'bold' },
              callback: (v: any) => fmtY(Number(v)),
            },
            grid: { color: GRID, lineWidth: 1, tickLength: 5, drawTicks: true },
            border: { color: GRID, width: 1 },
          },
        },
      },
    } as any);
    return () => chart.destroy();
  }, []);
  return (
    <canvas
      ref={ref}
      width={PAGE_W}
      height={height}
      style={{ position: 'absolute', left: 0, top, width: PAGE_W, height, display: 'block' }}
    />
  );
}

export default function App() {
  const lineStyle = (left: number, top: number, width: number, height: number): React.CSSProperties => ({
    position: 'absolute', left, top, width, height, background: BORDER,
  });
  return (
    <div style={{ position: 'absolute', left: 0, top: 0, width: PAGE_W, height: PAGE_H, overflow: 'hidden', background: '#ffffff' }}>
      {/* panel frames */}
      <div style={lineStyle(9, 7, PAGE_W, 2)} />
      <div style={lineStyle(9, 311, PAGE_W, 2)} />
      <div style={lineStyle(9, 616, PAGE_W, 2)} />
      <div style={lineStyle(9, 922, PAGE_W, 2)} />
      <div style={lineStyle(8, 7, 2, 917)} />
      {PANELS.map((p, i) => (
        <PanelChart key={i} {...p} />
      ))}
      {/* legend */}
      <div style={{ position: 'absolute', left: 43, top: 920, width: 915, height: 29, background: '#ffffff' }} />
      {SERIES_NAMES.map((name, i) => (
        <div
          key={name}
          style={{ position: 'absolute', left: LEGEND_X[i], top: 925, height: 24, display: 'flex', alignItems: 'center', whiteSpace: 'nowrap' }}
        >
          <span style={{ display: 'inline-block', width: 33, height: 3, background: SERIES_COLORS[i] }} />
          {i === 0 ? (
            <span style={{ marginLeft: 2, fontFamily: LABEL_FONT, fontWeight: 'bold', fontSize: 20, letterSpacing: 2, color: '#111', lineHeight: '24px' }}>{name}</span>
          ) : (
            <span style={{ marginLeft: 1, fontFamily: '"Liberation Serif", "DejaVu Serif", serif', fontSize: 21, color: '#111', lineHeight: '24px' }}>{name}</span>
          )}
        </div>
      ))}
    </div>
  );
}
